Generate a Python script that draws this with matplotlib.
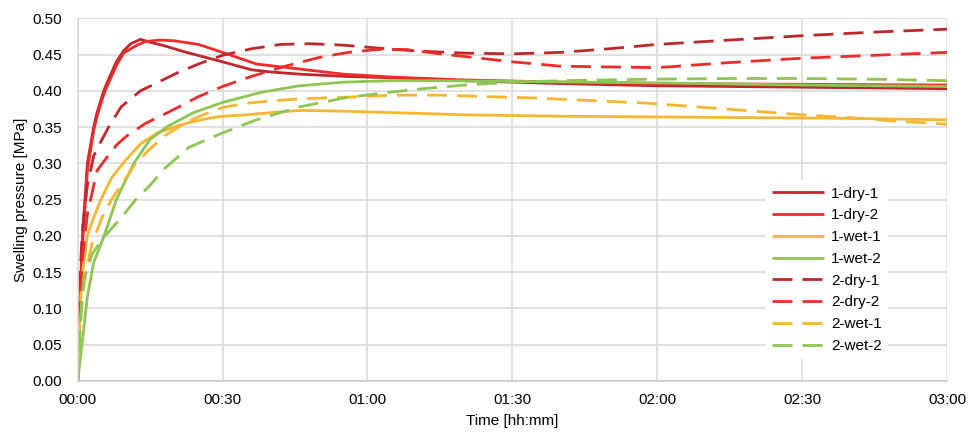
import matplotlib
matplotlib.use("Agg")
import matplotlib.pyplot as plt
from matplotlib.ticker import FixedLocator

plt.rcParams['font.family'] = ['Liberation Sans', 'DejaVu Sans']

# Elapsed time in minutes and swelling pressure in MPa for each test
t_1_dry_1 = [0, 0.5, 1, 2, 3.3, 4, 5.4, 6, 8, 9.5, 11, 13, 15, 18, 22, 26, 30, 36, 40, 46, 55, 65, 80, 100, 120, 150, 180]
p_1_dry_1 = [0.00, 0.12, 0.20, 0.30, 0.35, 0.37, 0.40, 0.41, 0.44, 0.455, 0.465, 0.471, 0.467, 0.462, 0.454, 0.447, 0.440, 0.429, 0.426, 0.423, 0.420, 0.418, 0.414, 0.410, 0.407, 0.405, 0.403]

t_1_dry_2 = [0, 0.5, 1, 2, 3.3, 4, 5.4, 6, 8, 9.5, 12, 14, 17, 20, 25, 30, 37, 46, 55, 65, 80, 100, 120, 150, 180]
p_1_dry_2 = [0.00, 0.11, 0.19, 0.29, 0.345, 0.365, 0.395, 0.405, 0.435, 0.452, 0.462, 0.468, 0.470, 0.469, 0.464, 0.453, 0.437, 0.430, 0.423, 0.419, 0.415, 0.412, 0.410, 0.409, 0.408]

t_1_wet_1 = [0, 0.5, 1, 2, 3, 4.8, 7, 10, 13, 16.5, 20, 23.4, 27, 30, 35, 40, 46, 55, 65, 80, 100, 120, 140, 160, 180]
p_1_wet_1 = [0.00, 0.10, 0.15, 0.20, 0.22, 0.25, 0.28, 0.305, 0.327, 0.342, 0.350, 0.357, 0.362, 0.365, 0.367, 0.370, 0.373, 0.372, 0.370, 0.367, 0.365, 0.364, 0.363, 0.362, 0.360]

t_1_wet_2 = [0, 1, 2, 3.3, 5.4, 8, 11.6, 15, 18.6, 24, 30, 38, 46, 55, 65, 75, 90, 105, 120, 150, 180]
p_1_wet_2 = [0.00, 0.057, 0.116, 0.163, 0.199, 0.250, 0.300, 0.333, 0.351, 0.370, 0.384, 0.398, 0.407, 0.412, 0.414, 0.414, 0.413, 0.412, 0.411, 0.408, 0.406]

t_2_dry_1 = [0, 0.5, 1, 2, 3.3, 4, 6.4, 9, 13, 17, 20.7, 25, 30, 36, 42, 48, 55, 62, 70, 80, 90, 100, 110, 120, 135, 150, 165, 180]
p_2_dry_1 = [0.00, 0.15, 0.21, 0.27, 0.31, 0.32, 0.35, 0.378, 0.400, 0.413, 0.425, 0.437, 0.449, 0.458, 0.464, 0.465, 0.463, 0.459, 0.455, 0.452, 0.451, 0.453, 0.458, 0.464, 0.470, 0.476, 0.481, 0.485]

t_2_dry_2 = [0, 0.5, 1, 2, 3, 4, 6, 8, 10, 14, 18, 21, 25, 30, 36, 43, 50, 56, 62, 68, 75, 82, 90, 100, 110, 120, 135, 150, 165, 180]
p_2_dry_2 = [0.00, 0.12, 0.17, 0.23, 0.26, 0.29, 0.308, 0.325, 0.337, 0.355, 0.368, 0.378, 0.392, 0.406, 0.420, 0.434, 0.446, 0.453, 0.457, 0.457, 0.451, 0.446, 0.440, 0.434, 0.433, 0.432, 0.439, 0.445, 0.449, 0.453]

t_2_wet_1 = [0, 0.5, 1, 2, 3, 5, 7, 9, 12, 15, 18, 22, 26, 30, 35, 40, 46, 55, 65, 75, 85, 95, 105, 118, 130, 140, 150, 160, 170, 180]
p_2_wet_1 = [0.00, 0.08, 0.12, 0.16, 0.19, 0.225, 0.25, 0.27, 0.30, 0.32, 0.338, 0.355, 0.367, 0.377, 0.383, 0.386, 0.389, 0.391, 0.394, 0.394, 0.392, 0.390, 0.387, 0.383, 0.377, 0.372, 0.367, 0.363, 0.358, 0.354]

t_2_wet_2 = [0, 0.5, 1.2, 2, 3, 5, 7, 9, 12, 15, 18, 23, 30, 37, 46, 55, 62, 70, 80, 90, 100, 118, 135, 150, 165, 180]
p_2_wet_2 = [0.00, 0.07, 0.14, 0.155, 0.175, 0.195, 0.21, 0.225, 0.25, 0.27, 0.293, 0.322, 0.342, 0.360, 0.378, 0.390, 0.396, 0.402, 0.408, 0.412, 0.414, 0.416, 0.417, 0.417, 0.416, 0.414]

labels = ['1-dry-1', '1-dry-2', '1-wet-1', '1-wet-2', '2-dry-1', '2-dry-2', '2-wet-1', '2-wet-2']
times = [t_1_dry_1, t_1_dry_2, t_1_wet_1, t_1_wet_2, t_2_dry_1, t_2_dry_2, t_2_wet_1, t_2_wet_2]
pressures = [p_1_dry_1, p_1_dry_2, p_1_wet_1, p_1_wet_2, p_2_dry_1, p_2_dry_2, p_2_wet_1, p_2_wet_2]

x_ticks = [0, 30, 60, 90, 120, 150, 180]
x_tick_labels = ['00:00', '00:30', '01:00', '01:30', '02:00', '02:30', '03:00']
y_ticks = [0.00, 0.05, 0.10, 0.15, 0.20, 0.25, 0.30, 0.35, 0.40, 0.45, 0.50]

colors = ['#C0272D', '#EE2B2B', '#F6B630', '#8DC652',
          '#C0272D', '#EE2B2B', '#F6B630', '#8DC652']

W, H = 979, 434
fig = plt.figure(figsize=(W / 100, H / 100), dpi=100)
ax = fig.add_axes([77.7 / W, (H - 381) / H, (947 - 77.7) / W, (381 - 18.3) / H])

for i, (t, p, lab, c) in enumerate(zip(times, pressures, labels, colors)):
    if i < 4:
        ax.plot(t, p, color=c, lw=2.0, label=lab, solid_capstyle='butt')
    else:
        ax.plot(t, p, color=c, lw=2.0, label=lab, dashes=(7.2, 3.6), dash_capstyle='butt')

ax.set_xlim(0, 180)
ax.set_ylim(0, 0.5)
ax.xaxis.set_major_locator(FixedLocator(x_ticks))
ax.set_xticklabels(x_tick_labels)
ax.yaxis.set_major_locator(FixedLocator(y_ticks))
ax.set_yticklabels([f'{v:.2f}' for v in y_ticks])
ax.tick_params(axis='both', length=0, labelsize=11, colors='#000000')
ax.tick_params(axis='y', pad=11.5)
ax.tick_params(axis='x', pad=9)

ax.grid(True, color='#D9D9D9', lw=1.1)
ax.set_axisbelow(True)
for s in ['top', 'right']:
    ax.spines[s].set_visible(False)
ax.spines['left'].set_color('#D9D9D9')
ax.spines['bottom'].set_color('#C8C8C8')
ax.spines['left'].set_linewidth(1.1)
ax.spines['bottom'].set_linewidth(1.1)

ax.set_xlabel('Time [hh:mm]', fontsize=11, labelpad=5)
ax.set_ylabel('Swelling pressure [MPa]', fontsize=11, labelpad=3)

leg = ax.legend(loc='upper left', bbox_to_anchor=(0.792, 0.553), borderaxespad=0,
                fontsize=11, frameon=True, fancybox=False, edgecolor='none',
                facecolor='white', framealpha=1, handlelength=3.4,
                handletextpad=0.45, labelspacing=0.51, borderpad=0.4)

fig.savefig('out.png', dpi=100, facecolor='white')
